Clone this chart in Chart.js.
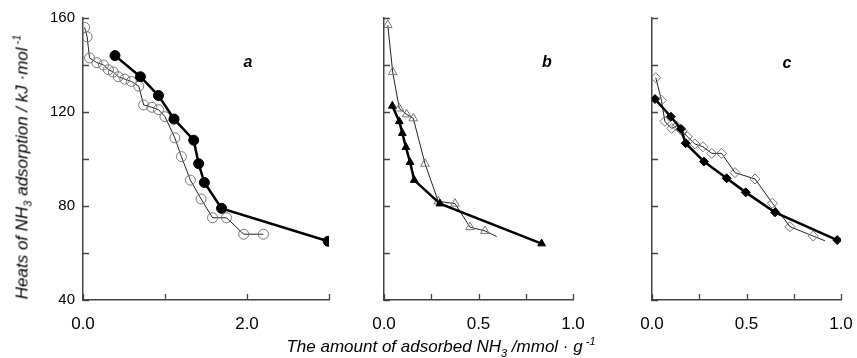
<!DOCTYPE html>
<html>
<head>
<meta charset="utf-8">
<script src="https://cdn.jsdelivr.net/npm/chart.js@4"></script>
<style>
  body { margin: 0; background: #fff; }
  #wrap { position: relative; width: 857px; height: 358px; overflow: hidden; font-family: "Liberation Sans", Arial, sans-serif; }
  canvas { position: absolute; top: 0; }
  .lbl { position: absolute; font-weight: bold; font-style: italic; font-size: 16px; transform: translate(-50%, -50%); }
  #ytitle { position: absolute; left: 22px; top: 167px; transform: translate(-50%, -50%) rotate(-90deg); white-space: nowrap; font-style: italic; font-size: 17px; }
  #xtitle { position: absolute; left: 441px; top: 347px; transform: translate(-50%, -50%); white-space: nowrap; font-style: italic; font-size: 17px; }
  sub, sup { font-size: 11px; }
</style>
</head>
<body>
<div id="wrap">
  <canvas id="chartA" width="345" height="358" style="left:0px"></canvas>
  <canvas id="chartB" width="250" height="358" style="left:345px"></canvas>
  <canvas id="chartC" width="262" height="358" style="left:595px"></canvas>
  <div class="lbl" style="left:248px; top:62px">a</div>
  <div class="lbl" style="left:547px; top:62px">b</div>
  <div class="lbl" style="left:787px; top:63px">c</div>
  <div id="ytitle">Heats of NH<sub>3</sub> adsorption / kJ ·mol<sup> -1</sup></div>
  <div id="xtitle">The amount of adsorbed NH<sub>3</sub> /mmol · g<sup> -1</sup></div>
</div>
<script>
// panel a - circles
const aFilledX = [0.39, 0.70, 0.92, 1.11, 1.35, 1.41, 1.48, 1.69, 2.99];
const aFilledY = [144, 135, 127, 117, 108, 98, 90, 79, 65];
const aOpenX = [0.02, 0.05, 0.08, 0.17, 0.25, 0.31, 0.37, 0.43, 0.51, 0.59, 0.68, 0.74, 0.84, 0.92, 1.00, 1.12, 1.20, 1.31, 1.44, 1.58, 1.75, 1.96, 2.20];
const aOpenY = [156, 152, 143, 141, 140, 138, 137, 135, 134, 133, 131, 123, 122, 121, 118, 109, 101, 91, 83, 75, 75, 68, 68];

// panel b - triangles
const bFilledX = [0.044, 0.081, 0.097, 0.116, 0.138, 0.16, 0.296, 0.834];
const bFilledY = [122.6, 116, 111, 105, 98.6, 91, 81, 64];
const bOpenX = [0.02, 0.046, 0.081, 0.12, 0.155, 0.217, 0.287, 0.376, 0.455, 0.534, 0.596];
const bOpenY = [157, 137, 121.5, 119, 117.3, 98, 82, 81, 71, 69.4, 67];

// panel c - diamonds
const cFilledX = [0.016, 0.10, 0.153, 0.178, 0.275, 0.395, 0.496, 0.651, 0.98];
const cFilledY = [125.5, 118, 112.8, 106.7, 98.9, 91.8, 85.8, 77.3, 65.5];
const cOpenX = [0.02, 0.05, 0.068, 0.104, 0.13, 0.16, 0.187, 0.227, 0.27, 0.316, 0.368, 0.439, 0.545, 0.637, 0.73, 0.853, 0.915];
const cOpenY = [134.6, 125, 116, 113, 114, 112, 109.5, 106.4, 105.2, 102.4, 102.4, 94.2, 91.5, 81.2, 71.2, 67.2, 65.2];

const yTicks = [40, 80, 120, 160];
const aXLabels = [0, 2];
const bcXLabels = [0, 0.5, 1];

function pts(xs, ys) {
    return xs.map((x, i) => ({ x: x, y: ys[i] }));
}

// short tick marks pointing into the plot
const innerTicks = {
    id: 'innerTicks',
    afterDraw(chart) {
        const ctx = chart.ctx;
        const xs = chart.scales.x, ys = chart.scales.y;
        const area = chart.chartArea;
        ctx.save();
        ctx.strokeStyle = '#444';
        ctx.lineWidth = 1.3;
        ctx.beginPath();
        xs.ticks.forEach(t => {
            const px = Math.round(xs.getPixelForValue(t.value)) + 0.5;
            ctx.moveTo(px, area.bottom);
            ctx.lineTo(px, area.bottom - 6);
        });
        ys.ticks.forEach(t => {
            const py = Math.round(ys.getPixelForValue(t.value)) + 0.5;
            ctx.moveTo(area.left, py);
            ctx.lineTo(area.left + 6, py);
        });
        ctx.stroke();
        ctx.restore();
    }
};

function makePanel(id, opts) {
    const lastHidden = (ctx) => ctx.dataIndex === ctx.dataset.data.length - 1 && opts.hideLastOpen ? 0 : opts.openRadius;
    new Chart(document.getElementById(id), {
        type: 'scatter',
        data: {
            datasets: [{
                data: pts(opts.fx, opts.fy),
                showLine: true,
                borderColor: '#000',
                borderWidth: 2.5,
                pointStyle: opts.style,
                pointRadius: opts.filledRadius,
                pointBackgroundColor: '#000',
                pointBorderColor: '#000',
                pointBorderWidth: 1
            }, {
                data: pts(opts.ox, opts.oy),
                showLine: true,
                borderColor: '#222',
                borderWidth: 1,
                pointStyle: opts.style,
                pointRadius: lastHidden,
                pointBackgroundColor: 'rgba(0,0,0,0)',
                pointBorderColor: '#777',
                pointBorderWidth: 1
            }]
        },
        options: {
            responsive: false,
            animation: false,
            layout: { padding: { left: 0, top: 18, right: opts.padRight, bottom: 18 } },
            plugins: { legend: { display: false }, tooltip: { enabled: false } },
            scales: {
                x: {
                    type: 'linear',
                    min: 0,
                    max: opts.xMax,
                    afterFit: (s) => {
                        s.height = 40;
                        s.paddingLeft = 0;
                        s.paddingRight = 0;
                    },
                    afterBuildTicks: (s) => {
                        s.ticks = [];
                        for (let v = 0; v <= opts.xMax + 1e-9; v += opts.xStep) s.ticks.push({ value: +v.toFixed(2) });
                    },
                    border: { color: '#444', width: 1.5 },
                    grid: { drawOnChartArea: false, drawTicks: false },
                    ticks: {
                        autoSkip: false,
                        maxRotation: 0,
                        padding: 14,
                        color: '#000',
                        font: { family: '"Liberation Sans", Arial, sans-serif', size: 17 },
                        callback: (v) => opts.xLabels.includes(v) ? v.toFixed(1) : ''
                    }
                },
                y: {
                    min: 40,
                    max: 160,
                    afterFit: (s) => {
                        s.width = opts.yWidth;
                        s.paddingTop = 0;
                        s.paddingBottom = 0;
                    },
                    border: { color: '#444', width: 1.5 },
                    grid: { drawOnChartArea: false, drawTicks: false },
                    ticks: {
                        stepSize: 20,
                        padding: 8,
                        color: '#000',
                        font: { family: '"Liberation Sans", Arial, sans-serif', size: 15 },
                        callback: (v) => opts.yLabels && yTicks.includes(v) ? String(v) : ''
                    }
                }
            }
        },
        plugins: [innerTicks]
    });
}

makePanel('chartA', {
    fx: aFilledX, fy: aFilledY, ox: aOpenX, oy: aOpenY,
    style: 'circle', filledRadius: 5, openRadius: 5, hideLastOpen: false,
    xMax: 3, xStep: 1, xLabels: aXLabels, yLabels: true, yWidth: 83, padRight: 16
});

makePanel('chartB', {
    fx: bFilledX, fy: bFilledY, ox: bOpenX, oy: bOpenY,
    style: 'triangle', filledRadius: 4.5, openRadius: 5, hideLastOpen: true,
    xMax: 1, xStep: 0.25, xLabels: bcXLabels, yLabels: false, yWidth: 39, padRight: 22
});

makePanel('chartC', {
    fx: cFilledX, fy: cFilledY, ox: cOpenX, oy: cOpenY,
    style: 'rectRot', filledRadius: 4.5, openRadius: 5, hideLastOpen: true,
    xMax: 1, xStep: 0.25, xLabels: bcXLabels, yLabels: false, yWidth: 57, padRight: 16
});
</script>
</body>
</html>
